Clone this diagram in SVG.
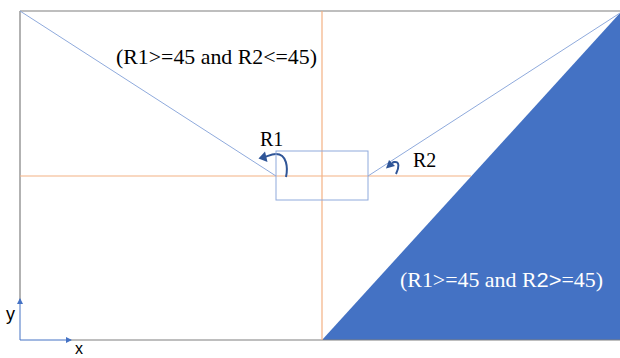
<svg xmlns="http://www.w3.org/2000/svg" width="620" height="358" viewBox="0 0 620 358">
<defs>
<style>
.frame{stroke:#7f7f7f;stroke-width:1.2;fill:none}
.guide{stroke:#f4b183;stroke-width:1.2;fill:none}
.ray{stroke:#8faadc;stroke-width:1;fill:none}
.rot{stroke:#2f5597;stroke-width:2;fill:none}
.rhead{fill:#2f5597}
.axis{stroke:#4472c4;stroke-width:1;fill:none}
.serif{font-family:"Liberation Serif","Times New Roman",serif}
.sans{font-family:"Liberation Sans",Arial,sans-serif}
</style>
<marker id="ah" markerWidth="6" markerHeight="6" refX="5" refY="3" orient="auto" markerUnits="userSpaceOnUse">
<path d="M0,0 L6,3 L0,6 z" fill="#4472c4"/>
</marker>
</defs>
<rect width="620" height="358" fill="#ffffff"/>
<g id="region-r2-large">
<polygon points="620,13 322,340 620,340" fill="#4472c4"/>
</g>
<g id="frame">
<line class="frame" x1="20" y1="11" x2="620" y2="11" stroke="#595959"/>
<line class="frame" x1="20" y1="11" x2="20" y2="300"/>
<line class="frame" x1="70" y1="340" x2="620" y2="340" stroke="#bfbfbf"/>
</g>
<g id="guides">
<line class="guide" x1="322" y1="11" x2="322" y2="340"/>
<line class="guide" x1="20" y1="176" x2="471" y2="176"/>
</g>
<g id="connectors">
<line class="ray" x1="20" y1="11" x2="276" y2="176"/>
<line class="ray" x1="368" y1="176" x2="620" y2="13"/>
<path class="rot" d="M286,177 C288,168 287,154 276,154 C272,154 268,156 265,157"/>
<polygon class="rhead" points="258.5,158.5 265,151.5 267.5,162"/>
<path class="rot" d="M396,174 C399,168 400,161 394,162 L392,163"/>
<polygon class="rhead" points="386,168.5 389,160 395,166"/>
</g>
<g id="box">
<rect x="276" y="151" width="92" height="49" fill="none" stroke="#8faadc" stroke-width="1"/>
</g>
<g id="axes">
<line class="axis" x1="20" y1="340" x2="20" y2="299" marker-end="url(#ah)"/>
<line class="axis" x1="20" y1="340" x2="71" y2="340" marker-end="url(#ah)"/>
<text class="sans" x="6" y="320" font-size="18">y</text>
<text class="sans" x="75" y="354" font-size="16">x</text>
</g>
<g id="labels">
<text class="serif" x="116" y="64" font-size="21" textLength="201" lengthAdjust="spacingAndGlyphs" fill="#000">(R1&gt;=45 and R2&lt;=45)</text>
<text class="serif" x="260" y="146" font-size="20" fill="#000">R1</text>
<text class="serif" x="413" y="167" font-size="20" fill="#000">R2</text>
<text class="serif" x="400" y="287" font-size="21" textLength="203" lengthAdjust="spacingAndGlyphs" fill="#ffffff">(R1&gt;=45 and R<tspan class="sans">2&gt;</tspan>=45)</text>
</g>
</svg>
